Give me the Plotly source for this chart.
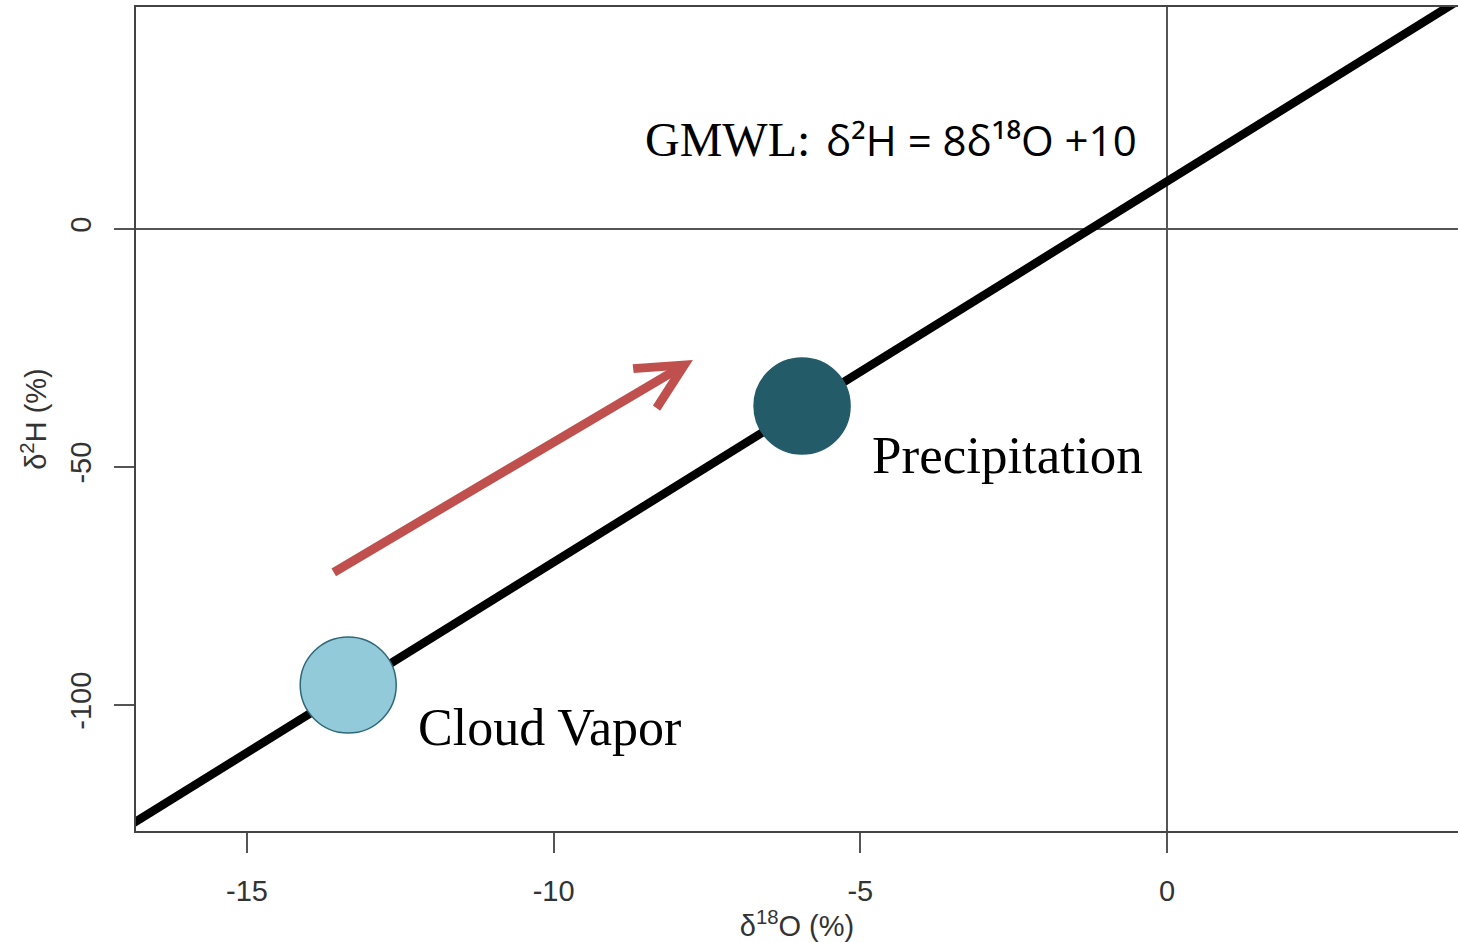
import plotly.graph_objects as go

# Global Meteoric Water Line: d2H = slope * d18O + intercept
gmwl_slope = 8
gmwl_intercept = 10
gmwl_x = [-17.0, 5.0]
gmwl_y = [gmwl_slope * v + gmwl_intercept for v in gmwl_x]

# Sample points (d18O, d2H)
sample_names = ["Cloud Vapor", "Precipitation"]
sample_x = [-13.35, -5.95]
sample_y = [-95.8, -37.2]
sample_fill = ["#92CAD9", "#235B69"]
sample_edge = ["#2E6878", "#235B69"]

# Enrichment arrow (tail -> head)
arrow_tail = (-13.61, -72.3)
arrow_head = (-7.73, -27.5)

x_ticks = [-15, -10, -5, 0]
y_ticks = [-100, -50, 0]
x_range = [-16.81, 4.745]
y_range = [-126.47, 46.64]

fig = go.Figure()

fig.add_trace(go.Scatter(
    x=gmwl_x, y=gmwl_y, mode="lines",
    line=dict(color="black", width=8.5),
    hoverinfo="skip", showlegend=False, cliponaxis=True,
))

fig.add_trace(go.Scatter(
    x=sample_x, y=sample_y, mode="markers",
    marker=dict(size=96, color=sample_fill,
                line=dict(color=sample_edge, width=1.5)),
    text=sample_names, showlegend=False,
))

serif = "Liberation Serif, Times New Roman, serif"
sans = "Open Sans, Noto Sans, sans-serif"

annotations = [
    dict(x=arrow_head[0], y=arrow_head[1], ax=arrow_tail[0], ay=arrow_tail[1],
         xref="x", yref="y", axref="x", ayref="y", text="",
         showarrow=True, arrowhead=5, arrowsize=1.0, arrowwidth=9,
         arrowcolor="#C0504D"),
    dict(x=-12.245, y=-104.8, xref="x", yref="y", text=sample_names[0],
         showarrow=False, xanchor="left", yanchor="middle",
         font=dict(family=serif, size=52, color="black")),
    dict(x=-4.845, y=-47.4, xref="x", yref="y", text=sample_names[1],
         showarrow=False, xanchor="left", yanchor="middle",
         font=dict(family=serif, size=53, color="black")),
    dict(x=-8.545, y=18.7, xref="x", yref="y", text="GMWL:",
         showarrow=False, xanchor="left", yanchor="middle",
         font=dict(family=serif, size=48, color="black")),
    dict(x=-5.60, y=18.7, xref="x", yref="y",
         text=f"δ²H = {gmwl_slope}δ¹⁸O +{gmwl_intercept}",
         showarrow=False, xanchor="left", yanchor="middle",
         font=dict(family=sans, size=42, color="black")),
]

axis_font = dict(family="Liberation Sans, Arial, sans-serif", size=29, color="#333333")

fig.update_layout(
    width=1458, height=942,
    margin=dict(l=136, r=0, t=7, b=111),
    paper_bgcolor="white", plot_bgcolor="white",
    annotations=annotations,
    xaxis=dict(
        range=x_range, tickvals=x_ticks, ticktext=[str(v) for v in x_ticks],
        showgrid=False, zeroline=True, zerolinecolor="#555555", zerolinewidth=1.5,
        showline=True, linecolor="#444444", linewidth=2, mirror=True,
        ticks="outside", ticklen=20, tickwidth=1.5, tickcolor="#555555",
        tickfont=axis_font, ticklabelstandoff=13,
        title=dict(text="δ<sup>18</sup>O (%)", font=axis_font, standoff=0),
    ),
    yaxis=dict(
        range=y_range, tickvals=y_ticks, ticktext=[str(v) for v in y_ticks],
        showgrid=False, zeroline=True, zerolinecolor="#555555", zerolinewidth=1.5,
        showline=True, linecolor="#444444", linewidth=2, mirror=False,
        ticks="outside", ticklen=20, tickwidth=1.5, tickcolor="#555555",
        tickfont=axis_font, tickangle=-90, ticklabelstandoff=11,
        title=dict(text="δ<sup>2</sup>H (%)", font=axis_font, standoff=10),
    ),
)

fig.write_html("out.html")
